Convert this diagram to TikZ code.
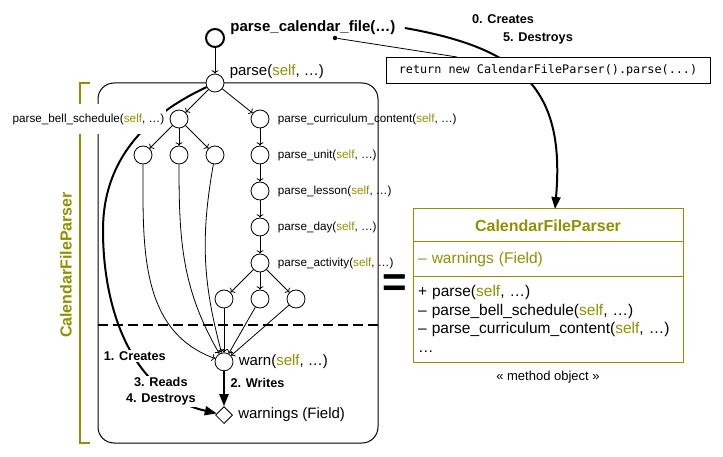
\documentclass[tikz,border=0pt]{standalone}
\usepackage{fontspec}
\setmainfont{Liberation Sans}
\setmonofont{DejaVu Sans Mono}
\usetikzlibrary{shapes, shapes.geometric, arrows, arrows.meta, positioning}
\definecolor{olivec}{RGB}{145,145,0}
\newcommand{\slf}{\textcolor{olivec}{self}}

\begin{document}
\begin{tikzpicture}[x=1pt, y=-1pt, node distance=17.2pt, line width=0.8pt,
    fn/.style={circle, draw, fill=white, minimum size=18pt, inner sep=0pt},
    lbl/.style={font=\fontsize{11.7}{14}\selectfont, inner sep=2pt},
    biglbl/.style={font=\fontsize{15}{18}\selectfont, inner sep=2pt},
    edgelbl/.style={font=\fontsize{12.7}{16}\selectfont\bfseries, fill=white, inner sep=1.5pt, align=center},
    heavy/.style={line width=2pt, -{Triangle[length=12pt, width=9pt]}},
    umlbox/.style={draw=olivec, line width=1pt, outer sep=0pt, minimum width=270pt, fill=white}]
    \useasboundingbox (0,0) rectangle (723,457);

    % Define frames
    \draw[olivec, line width=2pt] (90,83) -- (80,83) -- (80,443) -- (90,443);
    \node (owner) [rotate=90, text=olivec, font=\fontsize{16}{19}\selectfont\bfseries] at (66,265) {CalendarFileParser};
    \node (body) [draw, line width=1pt, rounded corners=16pt, minimum width=280pt, minimum height=360pt] at (238,263) {};
    \draw[line width=2pt, dash pattern=on 10pt off 5pt] (body.west |- 0,325) -- (body.east |- 0,325);

    % Define nodes
    \node (start) [circle, draw, line width=2pt, minimum size=18pt, inner sep=0pt] at (215,38) {};
    \node (parse) [fn] at (215,83) {};
    \node (bell) [fn] at (179,119) {};
    \node (curr) [fn] at (260,119) {};
    \node (b2) [fn, below=of bell] {};
    \node (b1) [fn, left=of b2] {};
    \node (b3) [fn, right=of b2] {};
    \node (unit) [fn, below=of curr] {};
    \node (lesson) [fn, below=of unit] {};
    \node (day) [fn, below=of lesson] {};
    \node (act) [fn, below=of day] {};
    \node (a2) [fn, below=of act] {};
    \node (a1) [fn, left=of a2] {};
    \node (a3) [fn, right=of a2] {};
    \node (warn) [fn, below=44pt of a1] {};
    \node (warnings) [diamond, draw, fill=white, minimum size=17pt, inner sep=0pt, below=35pt of warn] {};
    \coordinate (loopleft) at (103,230);

    % Field lifetime
    \draw[heavy] (parse.206) to[out=205, in=90] (loopleft) to[out=-90, in=167]
        node[edgelbl, pos=0.55] {1. Creates}
        node[edgelbl, pos=0.77, xshift=-7pt] {3. Reads\\4. Destroys} (warnings);

    % Labels
    \node (pcf) [right=4pt of start, yshift=10pt, font=\fontsize{15}{18}\selectfont\bfseries, inner sep=1pt] {parse\_calendar\_file(…)};
    \node (parselbl) [biglbl, right=3pt of parse, yshift=11pt] {parse(\slf, …)};
    \node (belllbl) [lbl, fill=white, minimum height=30pt, left=3pt of bell] {parse\_bell\_schedule(\slf, …)};
    \node (currlbl) [lbl, right=6pt of curr] {parse\_curriculum\_content(\slf, …)};
    \node (unitlbl) [lbl, right=6pt of unit] {parse\_unit(\slf, …)};
    \node (lessonlbl) [lbl, right=6pt of lesson] {parse\_lesson(\slf, …)};
    \node (daylbl) [lbl, right=6pt of day] {parse\_day(\slf, …)};
    \node (actlbl) [lbl, right=6pt of act] {parse\_activity(\slf, …)};
    \node (warnlbl) [biglbl, right=3pt of warn] {warn(\slf, …)};
    \node (fieldlbl) [biglbl, right=3pt of warnings] {warnings (Field)};

    % Connect nodes
    \draw[->] (start) -- (parse);
    \draw[->] (parse) -- (bell);
    \draw[->] (parse) -- (curr);
    \draw[->] (bell) -- (b1);
    \draw[->] (bell) -- (b2);
    \draw[->] (bell) -- (b3);
    \draw[->] (curr) -- (unit);
    \draw[->] (unit) -- (lesson);
    \draw[->] (lesson) -- (day);
    \draw[->] (day) -- (act);
    \draw[->] (act) -- (a1);
    \draw[->] (act) -- (a2);
    \draw[->] (act) -- (a3);
    \draw[->] (a1) -- (warn);
    \draw[->] (a2) -- (warn);
    \draw[->] (a3) -- (warn);
    \draw[->] (b1) to[out=-90, in=160] (warn);
    \draw[->] (b2) to[out=-90, in=120] (warn);
    \draw[->] (b3) to[out=-100, in=105] (warn);
    \draw[heavy] (warn) -- node[edgelbl, fill=none, right=4pt, pos=0.35] {2. Writes} (warnings);

    % Method object
    \node (equiv) [font=\fontsize{42}{42}\selectfont\bfseries] at (395,286) {=};
    \node (umlhead) [umlbox, minimum height=33pt, text=olivec, font=\fontsize{16}{19}\selectfont\bfseries] at (548,225.5) {CalendarFileParser};
    \node (umlfield) [umlbox, below=0pt of umlhead, minimum height=34pt, text width=260pt, align=left, text=olivec, font=\fontsize{15.5}{18.7}\selectfont] {– warnings (Field)};
    \node (umlmeth) [umlbox, below=0pt of umlfield, minimum height=86pt, text width=260pt, align=left, font=\fontsize{15.5}{18.7}\selectfont] {+ parse(\slf, …)\\– parse\_bell\_schedule(\slf, …)\\– parse\_curriculum\_content(\slf, …)\\…};
    \node (stereo) [below=5pt of umlmeth, font=\fontsize{13}{15}\selectfont] {« method object »};

    % Creation call
    \draw[heavy] ([xshift=8pt]pcf.east) to[out=-10, in=85, looseness=1.3] ([xshift=7pt]umlhead.north);
    \node (created) [edgelbl, fill=none] at (503,19) {0. Creates};
    \node (destroyed) [edgelbl, fill=none] at (538,38) {5. Destroys};
    \node (note) [draw, fill=white, font=\fontsize{11.8}{14}\selectfont\ttfamily, minimum width=324pt, minimum height=26pt, inner sep=0pt] at (548,70) {return new CalendarFileParser().parse(...)};
    \node (dot) [circle, fill, inner sep=0pt, minimum size=4.5pt] at (335,38) {};
    \coordinate (notetip) at (457,57);
    \draw (dot) -- (notetip);
\end{tikzpicture}
\end{document}
